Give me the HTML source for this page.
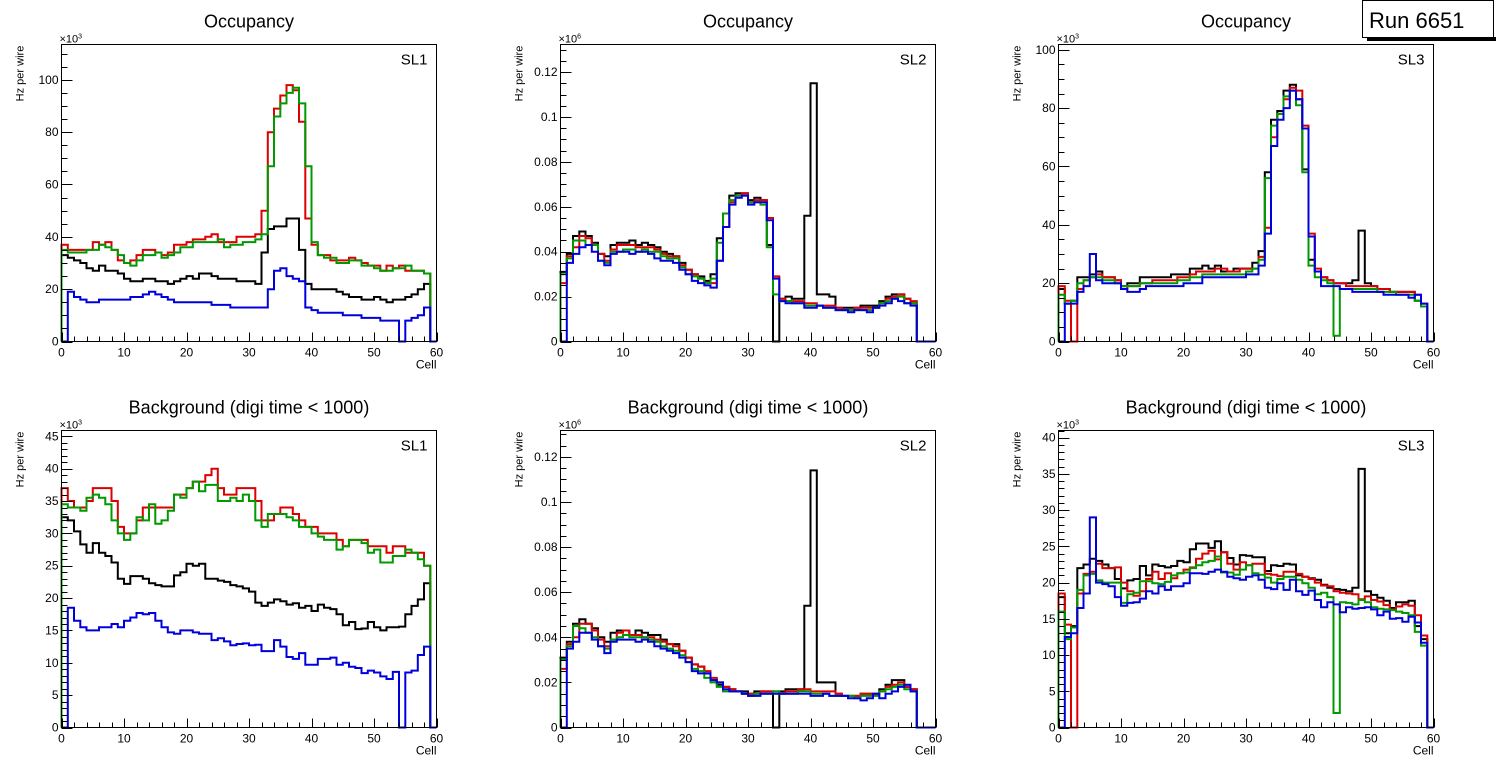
<!DOCTYPE html>
<html><head><meta charset="utf-8">
<style>
html,body{margin:0;padding:0;background:#fff;}
svg{display:block;font-family:"Liberation Sans",Arial,sans-serif;}
</style></head>
<body>
<svg id="c" width="1496" height="772" viewBox="0 0 1496 772">
  <g>
    <rect x="1367" y="37" width="129" height="4" fill="#000"/>
    <rect x="1362.5" y="0.5" width="131" height="37" fill="#fff" stroke="#000" stroke-width="1"/>
    <text x="1369" y="28" font-size="22" fill="#000">Run 6651</text>
  </g>
</svg>
<script>
// ---------- data (display units) ----------
const cells = 60;
const titles = ["Occupancy","Occupancy","Occupancy","Background (digi time < 1000)","Background (digi time < 1000)","Background (digi time < 1000)"];
const slLabels = ["SL1","SL2","SL3","SL1","SL2","SL3"];
const exponents = ["3","6","3","3","6","3"];
const yMaxes = [113.5, 0.1323, 101.8, 45.9, 0.1317, 41.0];
const yMajor = [20, 0.02, 20, 5, 0.02, 5];
const yMinor = [5, 0.005, 5, 1, 0.005, 1];
const yTickLabels = [
  ["0","20","40","60","80","100"],
  ["0","0.02","0.04","0.06","0.08","0.1","0.12"],
  ["0","20","40","60","80","100"],
  ["0","5","10","15","20","25","30","35","40","45"],
  ["0","0.02","0.04","0.06","0.08","0.1","0.12"],
  ["0","5","10","15","20","25","30","35","40"]
];
const xTickLabels = ["0","10","20","30","40","50","60"];

// Panel 1: Occupancy SL1 (x10^3)
const p1Black = [33,32,31,30,28,27,29,27,27,26, 24,23,23,24,24,23,23,22,23,24, 25,24,26,26,25,24,24,24,23,23, 23,22,34,43,44,44,47,47,35,22, 20,20,20,20,19,18,17,17,16,16, 17,16,15,16,16,17,18,20,22,0];
const p1Red   = [37,35,35,35,35,38,37,38,35,31, 30,31,33,35,35,34,33,34,37,37, 38,39,39,40,41,38,38,38,40,40, 40,41,50,80,89,94,98,96,84,47, 37,33,33,31,31,31,32,31,30,29, 29,27,29,28,29,27,27,27,26,0];
const p1Green = [35,34,34,34,35,35,37,36,35,33, 30,29,31,33,33,34,32,33,34,36, 36,38,38,38,38,39,36,37,37,38, 38,39,41,67,86,91,95,97,91,67, 38,33,32,32,30,30,31,31,29,29, 28,27,27,28,28,29,27,27,26,0];
const p1Blue  = [0,19,17,16,15,15,16,16,16,16, 16,17,17,18,19,18,17,16,15,15, 15,15,15,15,14,14,14,13,13,13, 13,13,13,20,27,28,25,24,23,13, 12,11,11,11,11,10,10,10,9,9, 9,8,8,8,0,8,9,10,13,0];

// Panel 2: Occupancy SL2 (x10^6)
const p2Black = [0.031,0.039,0.047,0.049,0.047,0.044,0.039,0.038,0.043,0.044, 0.044,0.045,0.043,0.044,0.043,0.042,0.040,0.039,0.038,0.035, 0.032,0.030,0.029,0.027,0.030,0.046,0.057,0.065,0.066,0.066, 0.063,0.064,0.063,0.043,0,0.019,0.020,0.019,0.019,0.056, 0.115,0.021,0.021,0.020,0.015,0.015,0.015,0.015,0.016,0.016, 0.016,0.018,0.020,0.021,0.021,0.019,0.017,0,0,0];
const p2Red   = [0.026,0.038,0.042,0.047,0.046,0.043,0.039,0.036,0.041,0.043, 0.043,0.043,0.042,0.042,0.042,0.041,0.039,0.038,0.038,0.034, 0.032,0.030,0.028,0.026,0.026,0.036,0.051,0.062,0.065,0.066, 0.062,0.063,0.063,0.055,0.029,0.019,0.018,0.018,0.018,0.017, 0.017,0.016,0.016,0.016,0.015,0.014,0.014,0.015,0.015,0.015, 0.015,0.017,0.019,0.020,0.021,0.019,0.018,0,0,0];
const p2Green = [0.030,0.037,0.045,0.045,0.043,0.043,0.036,0.035,0.040,0.040, 0.041,0.041,0.040,0.041,0.040,0.040,0.038,0.037,0.037,0.033, 0.030,0.029,0.028,0.026,0.028,0.044,0.057,0.063,0.065,0.065, 0.062,0.062,0.061,0.042,0.021,0.018,0.018,0.017,0.017,0.016, 0.016,0.016,0.015,0.015,0.014,0.014,0.014,0.014,0.014,0.014, 0.015,0.017,0.018,0.019,0.020,0.017,0.017,0,0,0];
const p2Blue  = [0,0.035,0.039,0.042,0.043,0.040,0.036,0.034,0.039,0.040, 0.040,0.039,0.040,0.040,0.039,0.037,0.036,0.036,0.035,0.032, 0.030,0.027,0.026,0.025,0.024,0.036,0.051,0.061,0.064,0.065, 0.061,0.062,0.062,0.054,0.028,0.018,0.017,0.017,0.017,0.015, 0.015,0.016,0.015,0.015,0.014,0.014,0.013,0.014,0.014,0.013, 0.015,0.016,0.017,0.019,0.018,0.017,0.016,0,0,0];

// Panel 3: Occupancy SL3 (x10^3)
const p3Black = [18,13,14,22,22,23,24,22,22,21, 19,20,20,22,22,22,22,22,23,23, 23,25,25,26,25,26,24,24,25,25, 25,27,31,58,76,79,86,88,83,59, 28,24,22,21,20,20,20,21,38,20, 19,18,18,17,17,17,17,14,12,0];
const p3Red   = [19,14,0,18,21,22,23,22,22,21, 18,19,19,20,20,21,21,21,21,22, 22,23,24,24,24,25,25,24,24,25, 25,25,29,39,70,78,83,87,86,74, 37,25,22,21,20,20,19,19,19,19, 19,18,18,17,17,17,17,16,13,0];
const p3Green = [16,13,14,20,21,22,22,21,21,20, 19,19,19,20,20,20,20,20,20,21, 21,22,22,23,23,23,23,23,23,23, 24,25,28,56,74,78,84,86,81,58, 26,22,21,20,2,18,18,18,18,18, 18,17,17,17,16,16,16,14,12,0];
const p3Blue  = [0,13,13,17,19,30,21,20,20,20, 18,17,17,18,19,19,19,19,19,19, 20,20,20,22,22,22,22,22,22,22, 23,23,26,37,67,76,80,86,83,73, 36,24,19,19,19,18,18,17,17,17, 17,17,16,16,16,16,15,16,13,0];

// Panel 4: Background SL1 (x10^3)
const p4Black = [32.5,32,30.3,28.3,27,28.5,27,26.5,25.5,23, 22.2,23.4,23.4,23,22.3,22,21.8,21.8,23.5,24, 25.3,25,25.3,23,23,22.7,22.5,22,21.8,21.5, 21,19.3,18.8,19.3,19.8,19.5,19,19.2,18.5,18.8, 18,19,18.5,18.3,17.5,15.8,16.3,15.2,15.3,16.3, 15.5,15,15.5,15.5,15.6,17.5,18.8,19.8,22.3,0];
const p4Red   = [37,35,34,34,35,37,37,37,35,31, 30,30,32,34,34,34,34,34,36,36, 37,38,38,39,40,37,36,36,37,37, 37,35,32,32,33,34,34,33,32,31, 31,30,30,30,29,28,29,29,29,28, 28,28,27,28,28,27,27,27,25,0];
const p4Green = [34.5,34,34,33.5,35.5,36,35.5,34.5,32,30, 29,30,32.5,32,34.5,31.5,32,33.5,36,35.5, 37,38,36.5,37.5,37.5,35,35,35.5,35,36, 35,32,31,33,33,33,32.5,32,31,31, 30,29.5,29,29,27.5,28,29,29,28.5,27, 27.5,25.5,25.5,26.5,26.5,27.5,27,26,25,0];
const p4Blue  = [0,18.5,16.5,15.5,15,15,15.5,15.5,16,15.5, 16.5,17,17.7,17.5,17.7,16.5,15.5,14.7,14.5,15, 15,14.7,14.5,14.5,13.5,13.8,13.3,12.7,12.9,13, 12.7,12.8,11.8,11.8,13.5,12.5,10.9,10.6,11.5,9.7, 9.7,10.6,10.6,10.8,9.7,10,9.4,9.2,8.4,8.8, 8.5,7.9,7.5,8.6,0,8.5,8.8,11.2,12.5,0];

// Panel 5: Background SL2 (x10^6)
const p5Black = [0.031,0.038,0.046,0.048,0.046,0.044,0.040,0.038,0.042,0.043, 0.043,0.041,0.043,0.042,0.041,0.041,0.039,0.037,0.037,0.034, 0.031,0.028,0.027,0.024,0.021,0.019,0.018,0.017,0.016,0.016, 0.015,0.016,0.016,0.016,0,0.016,0.017,0.017,0.017,0.054, 0.114,0.020,0.020,0.020,0.015,0.014,0.014,0.014,0.015,0.015, 0.015,0.017,0.019,0.021,0.021,0.018,0.017,0,0,0];
const p5Red   = [0.026,0.037,0.040,0.046,0.046,0.043,0.039,0.036,0.039,0.042, 0.043,0.041,0.041,0.040,0.040,0.039,0.038,0.037,0.036,0.034, 0.031,0.028,0.027,0.025,0.022,0.020,0.018,0.017,0.016,0.015, 0.015,0.015,0.016,0.016,0.016,0.015,0.016,0.016,0.017,0.017, 0.016,0.016,0.016,0.016,0.015,0.014,0.014,0.014,0.015,0.015, 0.015,0.016,0.018,0.019,0.020,0.018,0.017,0,0,0];
const p5Green = [0.030,0.036,0.045,0.044,0.042,0.040,0.036,0.035,0.039,0.040, 0.041,0.040,0.040,0.040,0.039,0.038,0.036,0.035,0.034,0.032, 0.029,0.026,0.025,0.022,0.020,0.018,0.016,0.016,0.016,0.015, 0.014,0.015,0.015,0.015,0.016,0.015,0.015,0.015,0.016,0.016, 0.015,0.015,0.015,0.014,0.014,0.014,0.014,0.013,0.014,0.014, 0.014,0.016,0.017,0.018,0.019,0.017,0.016,0,0,0];
const p5Blue  = [0,0.035,0.038,0.042,0.042,0.039,0.036,0.033,0.038,0.039, 0.039,0.039,0.038,0.039,0.038,0.036,0.035,0.034,0.033,0.031, 0.029,0.025,0.024,0.024,0.021,0.020,0.017,0.016,0.016,0.015, 0.014,0.014,0.015,0.015,0.015,0.015,0.015,0.015,0.015,0.015, 0.014,0.014,0.015,0.014,0.014,0.014,0.013,0.013,0.012,0.013, 0.015,0.013,0.015,0.016,0.018,0.019,0.016,0,0,0];

// Panel 6: Background SL3 (x10^3)
const p6Black = [18,13,14,22,22.5,23.3,23,22.5,22,20.5, 19.2,20.3,20.5,22.3,21,22.5,22.3,22.1,22.3,23, 22.8,24.6,25.4,25.4,24.8,25.7,24.2,23.4,22.5,23.8, 23.7,23.5,23.5,21.6,22.4,22.3,22.6,22.5,21,20.8, 20.6,20.4,19.7,19.3,19.1,19,18.8,19.3,35.7,18.8, 18.3,17.9,17.5,16.5,17.3,17.3,17.5,14,12.2,0];
const p6Red   = [18.5,14.2,0,18.5,21.2,21.5,22.6,22,22,22.1, 20,18.8,18.2,18.8,20.5,21.5,20.5,21.3,20.6,21.3, 21.8,22.1,23.3,24,24.4,23.2,24.2,22.6,21.8,22.8, 22.4,22.6,22.6,21.2,21.1,20.9,21.5,21.5,21.2,20.8, 20.5,20,19.6,19.5,18.8,18.6,18.5,18.4,17.7,18.1, 17.6,17.4,16.9,16.3,16.7,17,16.8,15.5,12.7,0];
const p6Green = [16,12.2,13.8,19,21,21.2,20.3,20,20,20, 17.2,18.4,18.6,20.2,20.2,19.9,19.8,20.1,21,21.3, 21.4,22,22.4,22.8,23,23.6,21.4,21.4,21.1,21.8, 22.4,21.3,21.1,20.7,20,20.5,20.8,20.8,20.4,19.9, 19.3,18.4,18.6,18,2,17.3,17.2,17,17.6,17.3, 16.6,16.4,16.3,16.2,16,15.8,15.5,13.2,11.3,0];
const p6Blue  = [0,12.5,13,16.5,18.5,29,20,19.8,19.5,18, 16.8,17.2,17.3,17.8,18.8,18.5,19.5,19,19.5,19.5, 19.9,21.3,21.3,21.2,21.5,21.8,21.5,20.8,20.6,20.4, 20.8,21,20.4,19.3,19.1,19.9,19,20.4,18.8,18.3, 18.9,17.6,16.6,17.3,17,15.9,16.6,16.4,16.5,16.6, 16.3,15.5,16,15,15.1,14.6,15.3,14.5,11.7,0];

const seriesColors = ["#000000","#dd0000","#009900","#0000dd"];
const seriesNames = ["black","red","green","blue"];
const panelSeries = [
  [p1Black,p1Red,p1Green,p1Blue],[p2Black,p2Red,p2Green,p2Blue],[p3Black,p3Red,p3Green,p3Blue],
  [p4Black,p4Red,p4Green,p4Blue],[p5Black,p5Red,p5Green,p5Blue],[p6Black,p6Red,p6Green,p6Blue]
];

// ---------- layout ----------
const NS = "http://www.w3.org/2000/svg";
const svg = document.getElementById("c");
const frameX = [61.5, 560.5, 1058.5];
const frameW = 375;
const frameY = [44.5, 430.5];
const frameH = 297;

function mk(tag, attrs, parent){
  const e = document.createElementNS(NS, tag);
  for (const k in attrs) e.setAttribute(k, attrs[k]);
  parent.appendChild(e);
  return e;
}

for (let p = 0; p < 6; p++) {
  const fx = frameX[p % 3], fy = frameY[Math.floor(p / 3)];
  const ymax = yMaxes[p];
  const xs = c => fx + c / cells * frameW;
  const ys = v => fy + frameH - Math.min(v, ymax) / ymax * frameH;
  const g = mk("g", {}, svg);
  
  

  const t = mk("text", {x: fx + frameW / 2, y: fy - 17, "font-size": 18, "text-anchor": "middle"}, g);
  t.textContent = titles[p];
  
  

  panelSeries[p].forEach((arr, s) => {
    let d = "M" + xs(0).toFixed(1) + "," + ys(0).toFixed(1);
    for (let i = 0; i < arr.length; i++) {
      d += "L" + xs(i).toFixed(1) + "," + ys(arr[i]).toFixed(1) + "L" + xs(i + 1).toFixed(1) + "," + ys(arr[i]).toFixed(1);
    }
    d += "L" + xs(arr.length).toFixed(1) + "," + ys(0).toFixed(1);
    const path = mk("path", {d: d, fill: "none", stroke: seriesColors[s], "stroke-width": 2, "stroke-linejoin": "miter"}, g);
    
    
  });

  const fr = mk("rect", {x: fx, y: fy, width: frameW, height: frameH, fill: "none", stroke: "#000", "stroke-width": 1}, g);
  
  

  let xd = "";
  for (let c = 0; c <= cells; c += 2) {
    const len = (c % 10 === 0) ? 9 : 5;
    const x = Math.round(xs(c)) + 0.5;
    xd += "M" + x + "," + (fy + frameH) + "v" + (-len);
  }
  const xt = mk("path", {d: xd, stroke: "#000", "stroke-width": 1, fill: "none"}, g);
  
  
  xTickLabels.forEach((lab, i) => {
    const tl = mk("text", {x: xs(i * 10), y: fy + frameH + 15, "font-size": 12, "text-anchor": "middle"}, g);
    tl.textContent = lab;
    
    
  });
  const xl = mk("text", {x: fx + frameW, y: fy + frameH + 27, "font-size": 12, "text-anchor": "end"}, g);
  xl.textContent = "Cell";
  
  

  let yd = "";
  const nMin = Math.floor(ymax / yMinor[p] + 1e-6);
  const ratio = Math.round(yMajor[p] / yMinor[p]);
  for (let k = 0; k <= nMin; k++) {
    const len = (k % ratio === 0) ? 11 : 6;
    const y = Math.round(ys(k * yMinor[p])) + 0.5;
    yd += "M" + fx + "," + y + "h" + len;
  }
  const yt = mk("path", {d: yd, stroke: "#000", "stroke-width": 1, fill: "none"}, g);
  
  
  yTickLabels[p].forEach((lab, i) => {
    const tl = mk("text", {x: fx - 3, y: ys(i * yMajor[p]) + 4, "font-size": 12, "text-anchor": "end"}, g);
    tl.textContent = lab;
    
    
  });
  const ex = mk("text", {x: fx - 2, y: fy - 2, "font-size": 11}, g);
  ex.innerHTML = '\u00d710<tspan dy="-4" font-size="7">' + exponents[p] + '</tspan>';
  
  
  const yl = mk("text", {x: 0, y: 0, "font-size": 11, "text-anchor": "middle", transform: "translate(" + (fx - 38) + "," + (fy + 29) + ") rotate(-90)"}, g);
  yl.textContent = "Hz per wire";
  
  

  const sl = mk("text", {x: fx + frameW - 9, y: fy + 20, "font-size": 15, "text-anchor": "end"}, g);
  sl.textContent = slLabels[p];
  
  
}
</script>
</body></html>
